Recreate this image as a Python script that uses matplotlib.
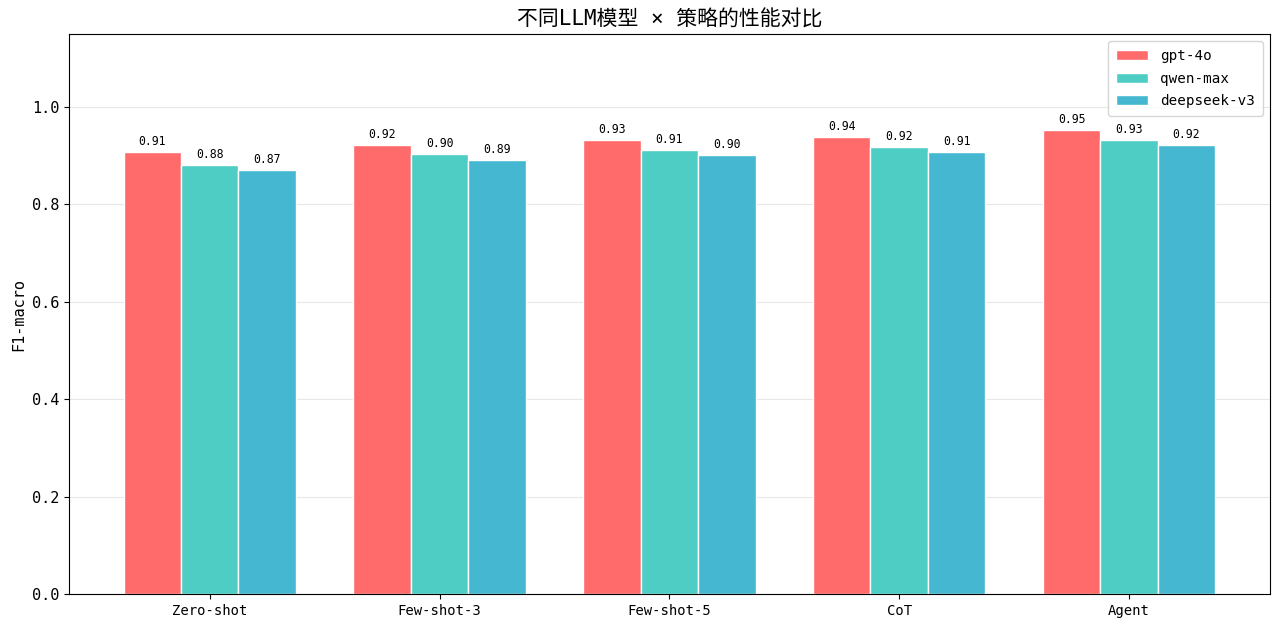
import matplotlib
matplotlib.use("Agg")
import matplotlib.pyplot as plt
import numpy as np

plt.rcParams['font.family'] = ['DejaVu Sans Mono', 'Noto Sans CJK SC']
plt.rcParams['axes.unicode_minus'] = False

strategies = ['Zero-shot', 'Few-shot-3', 'Few-shot-5', 'CoT', 'Agent']
models = ['gpt-4o', 'qwen-max', 'deepseek-v3']
gpt4o = [0.908, 0.922, 0.932, 0.938, 0.953]
qwen = [0.881, 0.903, 0.912, 0.918, 0.932]
deepseek = [0.871, 0.891, 0.901, 0.908, 0.922]
colors = ['#FF6B6B', '#4ECDC4', '#45B7D1']

fig = plt.figure(figsize=(12.8, 6.26), dpi=100)
ax = fig.add_axes([0.0539, 0.0511, 0.992 - 0.0539, 0.9457 - 0.0511])
x = np.arange(len(strategies))
w = 0.25
for i, (vals, name) in enumerate(zip([gpt4o, qwen, deepseek], models)):
    bars = ax.bar(x + (i - 1) * w, vals, w, label=name, color=colors[i],
                  edgecolor='white', linewidth=1)
    for b, v in zip(bars, vals):
        ax.text(b.get_x() + b.get_width() / 2, v + 0.008, f'{v:.2f}',
                ha='center', va='bottom', fontsize=8.3)

ax.set_xticks(x)
ax.set_xticklabels(strategies, fontsize=10)
ax.set_ylabel('F1-macro', fontsize=11)
ax.set_title('不同LLM模型 × 策略的性能对比', fontsize=15)
ax.set_ylim(0, 1.15)
ax.tick_params(axis='y', labelsize=11)
ax.grid(axis='y', alpha=0.3)
ax.set_axisbelow(True)
ax.legend(loc='upper right', fontsize=10.3, handlelength=2.3,
          labelspacing=0.6, borderpad=0.55)
fig.savefig('out.png', dpi=100)
